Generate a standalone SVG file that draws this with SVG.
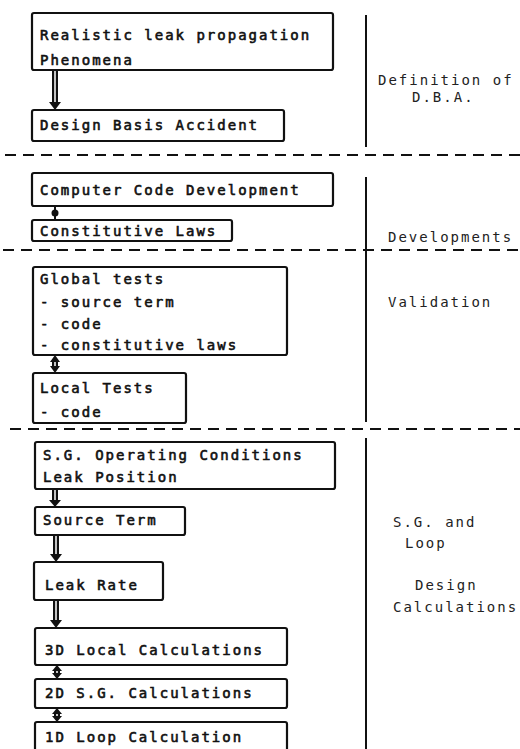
<svg xmlns="http://www.w3.org/2000/svg" width="520" height="749" viewBox="0 0 520 749">
<style>
.box{fill:#fff;stroke:#111;stroke-width:2.2}
.t{font-family:"DejaVu Sans Mono","Liberation Mono",monospace;font-size:14px;letter-spacing:2px;fill:#111;stroke:#111;stroke-width:0.6}
.lbl{font-family:"DejaVu Sans Mono","Liberation Mono",monospace;font-size:14px;letter-spacing:2px;fill:#222}
.dash{stroke:#111;stroke-width:2;stroke-dasharray:11 7;fill:none}
.vline{stroke:#111;stroke-width:2;fill:none}
.shaft{stroke:#111;stroke-width:6;fill:none}
.gap{stroke:#fff;stroke-width:1.5;fill:none}
.head{fill:#111}
</style>
<rect width="520" height="749" fill="#fff"/>

<g id="separators">
<line class="dash" x1="5" y1="155" x2="520" y2="155"/>
<line class="dash" x1="3" y1="250" x2="520" y2="250"/>
<line class="dash" x1="10" y1="429" x2="520" y2="429"/>
<line class="vline" x1="366" y1="15" x2="366" y2="147"/>
<line class="vline" x1="366" y1="177" x2="366" y2="422"/>
<line class="vline" x1="366" y1="438" x2="366" y2="749"/>
</g>

<g id="connectors">
<line class="shaft" x1="55" y1="70" x2="55" y2="103"/>
<line class="gap" x1="55" y1="71" x2="55" y2="102"/>
<polygon class="head" points="49,102 61,102 55,110"/>

<line class="vline" x1="55" y1="206" x2="55" y2="220"/>
<circle cx="55" cy="213" r="3.5" fill="#111"/>

<line class="shaft" x1="55" y1="361" x2="55" y2="367"/>
<line class="gap" x1="55" y1="361" x2="55" y2="367"/>
<polygon class="head" points="50,362 60,362 55,355"/>
<polygon class="head" points="50,366 60,366 55,373"/>

<line class="shaft" x1="55" y1="489" x2="55" y2="501"/>
<line class="gap" x1="55" y1="490" x2="55" y2="500"/>
<polygon class="head" points="49,500 61,500 55,507"/>

<line class="shaft" x1="56" y1="535" x2="56" y2="555"/>
<line class="gap" x1="56" y1="536" x2="56" y2="554"/>
<polygon class="head" points="50,554 62,554 56,562"/>

<line class="shaft" x1="56" y1="600" x2="56" y2="621"/>
<line class="gap" x1="56" y1="601" x2="56" y2="620"/>
<polygon class="head" points="50,620 62,620 56,628"/>

<line class="shaft" x1="57" y1="669" x2="57" y2="675"/>
<line class="gap" x1="57" y1="669" x2="57" y2="675"/>
<polygon class="head" points="52,671 62,671 57,665"/>
<polygon class="head" points="52,673 62,673 57,679"/>

<line class="shaft" x1="57" y1="712" x2="57" y2="718"/>
<line class="gap" x1="57" y1="712" x2="57" y2="718"/>
<polygon class="head" points="52,714 62,714 57,708"/>
<polygon class="head" points="52,716 62,716 57,722"/>
</g>

<g id="realistic-leak">
<rect class="box" x="32" y="13" width="301" height="57" rx="2"/>
<text class="t" x="40" y="40">Realistic leak propagation</text>
<text class="t" x="40" y="65">Phenomena</text>
</g>
<g id="dba">
<rect class="box" x="32" y="110" width="252" height="31" rx="2"/>
<text class="t" x="40" y="130">Design Basis Accident</text>
</g>
<g id="code-dev">
<rect class="box" x="32" y="173" width="301" height="33" rx="2"/>
<text class="t" x="40" y="195">Computer Code Development</text>
</g>
<g id="const-laws">
<rect class="box" x="32" y="220" width="200" height="21" rx="2"/>
<text class="t" x="40" y="236">Constitutive Laws</text>
</g>
<g id="global-tests">
<rect class="box" x="33" y="267" width="254" height="88" rx="2"/>
<text class="t" x="40" y="284">Global tests</text>
<text class="t" x="40" y="307">- source term</text>
<text class="t" x="40" y="329">- code</text>
<text class="t" x="40" y="350">- constitutive laws</text>
</g>
<g id="local-tests">
<rect class="box" x="33" y="373" width="153" height="50" rx="2"/>
<text class="t" x="40" y="393">Local Tests</text>
<text class="t" x="40" y="417">- code</text>
</g>
<g id="sg-conditions">
<rect class="box" x="35" y="442" width="300" height="47" rx="2"/>
<text class="t" x="43" y="460">S.G. Operating Conditions</text>
<text class="t" x="43" y="482">Leak Position</text>
</g>
<g id="source-term">
<rect class="box" x="35" y="507" width="150" height="28" rx="2"/>
<text class="t" x="43" y="525">Source Term</text>
</g>
<g id="leak-rate">
<rect class="box" x="34" y="562" width="129" height="38" rx="2"/>
<text class="t" x="45" y="590">Leak Rate</text>
</g>
<g id="calc-3d">
<rect class="box" x="35" y="628" width="252" height="37" rx="2"/>
<text class="t" x="45" y="655">3D Local Calculations</text>
</g>
<g id="calc-2d">
<rect class="box" x="35" y="679" width="252" height="29" rx="2"/>
<text class="t" x="45" y="698">2D S.G. Calculations</text>
</g>
<g id="calc-1d">
<rect class="box" x="35" y="722" width="252" height="40" rx="2"/>
<text class="t" x="45" y="742">1D Loop Calculation</text>
</g>

<g id="phase-labels">
<text class="lbl" x="378" y="85">Definition of</text>
<text class="lbl" x="412" y="102">D.B.A.</text>
<text class="lbl" x="388" y="242">Developments</text>
<text class="lbl" x="388" y="307">Validation</text>
<text class="lbl" x="393" y="527">S.G. and</text>
<text class="lbl" x="405" y="548">Loop</text>
<text class="lbl" x="415" y="590">Design</text>
<text class="lbl" x="393" y="612">Calculations</text>
</g>
</svg>
